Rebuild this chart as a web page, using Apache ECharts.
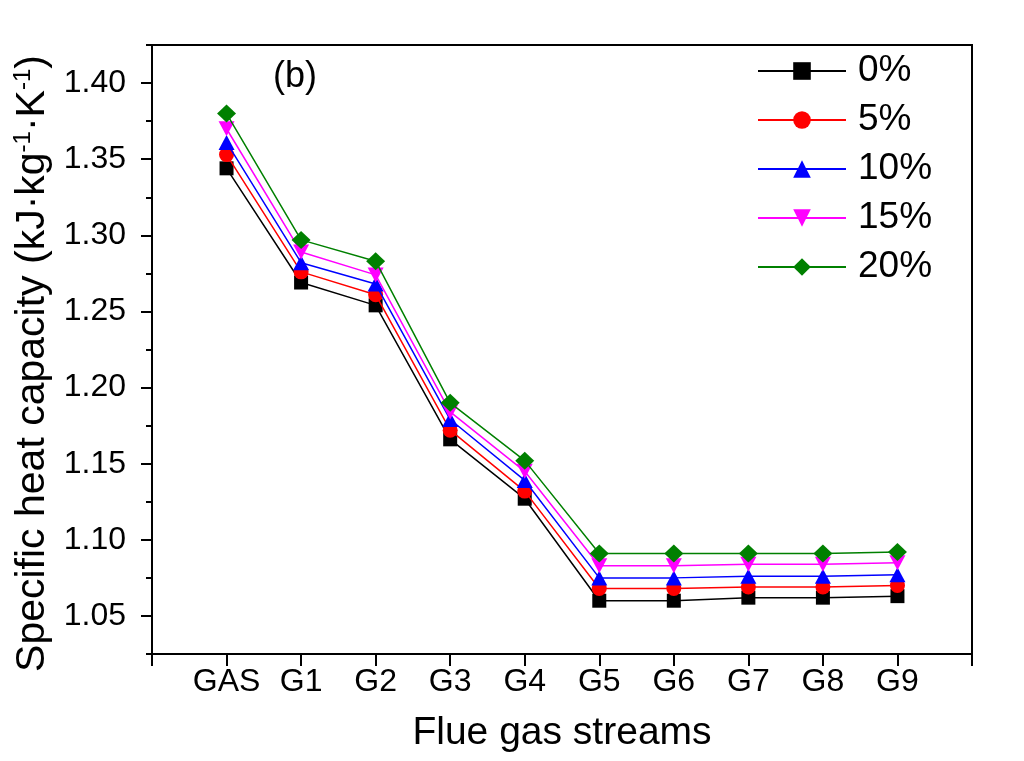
<!DOCTYPE html>
<html><head><meta charset="utf-8">
<script src="https://cdn.jsdelivr.net/npm/echarts@6/dist/echarts.min.js"></script>
<style>html,body{margin:0;padding:0;background:#fff}#c{width:1024px;height:761px}</style>
</head><body><div id="c"></div>
<script>
const categories = ['GAS','G1','G2','G3','G4','G5','G6','G7','G8','G9'];
const seriesNames = ['0%','5%','10%','15%','20%'];
const s0  = [1.344,1.269,1.254,1.166,1.127,1.060,1.060,1.062,1.062,1.063];
const s5  = [1.353,1.276,1.261,1.172,1.132,1.068,1.068,1.069,1.069,1.070];
const s10 = [1.361,1.282,1.268,1.179,1.139,1.075,1.075,1.076,1.076,1.077];
const s15 = [1.370,1.289,1.274,1.184,1.145,1.083,1.083,1.084,1.084,1.085];
const s20 = [1.380,1.297,1.283,1.190,1.152,1.091,1.091,1.091,1.091,1.092];
const yMajorTicks = [1.05,1.10,1.15,1.20,1.25,1.30,1.35,1.40];
const yMinorTicks = [1.025,1.075,1.125,1.175,1.225,1.275,1.325,1.375,1.425];
const xTicks = [-1,0,1,2,3,4,5,6,7,8,9,10];
const xLabelPos = [0,1,2,3,4,5,6,7,8,9];

const colors = ['#000000','#ff0000','#0000ff','#ff00ff','#008000'];
const symbols = ['rect','circle','triangle','triangle','diamond'];
const symbolSizes = [14,15,[16,15],[16,15],[19,18]];
const symbolRotates = [0,0,0,180,0];
const allData = [s0,s5,s10,s15,s20];

const font = 'Liberation Sans, Arial, sans-serif';
const chart = echarts.init(document.getElementById('c'), null, {renderer:'canvas'});
chart.setOption({
  animation: false,
  backgroundColor: '#fff',
  title: {text: '(b)', left: 268, top: 54, textStyle: {fontFamily: font, fontSize: 36, fontWeight: 'normal', color: '#000'}},
  grid: {left: 152, right: 52, top: 45, bottom: 107, show: true, borderColor: '#000', borderWidth: 2,
    backgroundColor: 'transparent', containLabel: false, outerBoundsMode: 'none'},
  legend: {
    left: 752, top: 46, orient: 'vertical', itemWidth: 88, itemHeight: 22, itemGap: 9,
    textStyle: {fontFamily: font, fontSize: 37, color: '#000', lineHeight: 40, padding: [0,0,0,7]},
    data: seriesNames
  },
  xAxis: {
    type: 'value', min: -1, max: 10, interval: 1,
    name: 'Flue gas streams', nameLocation: 'middle', nameGap: 60,
    nameTextStyle: {fontFamily: font, fontSize: 39, color: '#000'},
    axisLine: {onZero: false, lineStyle: {color: '#000', width: 2}},
    axisTick: {show: true, inside: false, length: 12, lineStyle: {color: '#000', width: 2}, customValues: xTicks},
    axisLabel: {fontFamily: font, fontSize: 32, color: '#000', margin: 12, customValues: xLabelPos,
      formatter: v => categories[Math.round(v)] || ''},
    splitLine: {show: false}
  },
  yAxis: [{
    type: 'value', min: 1.025, max: 1.425, interval: 0.025,
    name: 'Specific heat capacity (kJ·kg{sup|-1}·K{sup|-1})', nameLocation: 'middle', nameGap: 98,
    nameTextStyle: {fontFamily: font, fontSize: 41, color: '#000', padding: [0, 28, 0, 0],
      rich: {sup: {fontFamily: font, fontSize: 24, color: '#000', verticalAlign: 'top', padding: [0,0,16,0]}}},
    axisLine: {onZero: false, lineStyle: {color: '#000', width: 2}},
    axisTick: {show: true, inside: false, length: 11, lineStyle: {color: '#000', width: 2}, customValues: yMajorTicks},
    axisLabel: {fontFamily: font, fontSize: 32, color: '#000', margin: 26, customValues: yMajorTicks,
      formatter: v => v.toFixed(2)},
    splitLine: {show: false}
  },{
    type: 'value', min: 1.025, max: 1.425, interval: 0.025, position: 'left',
    axisLine: {show: false, onZero: false},
    axisTick: {show: true, inside: false, length: 6, lineStyle: {color: '#000', width: 2}, customValues: yMinorTicks},
    axisLabel: {show: false},
    splitLine: {show: false}
  }],
  series: seriesNames.map((n, i) => ({
    name: n, type: 'line', yAxisIndex: 0,
    data: allData[i].map((v, j) => [j, v]),
    symbol: symbols[i], symbolSize: symbolSizes[i], symbolRotate: symbolRotates[i],
    showAllSymbol: true,
    lineStyle: {color: colors[i], width: 1.5},
    itemStyle: {color: colors[i], borderWidth: 0},
    z: 2 + i
  }))
});
</script></body></html>
